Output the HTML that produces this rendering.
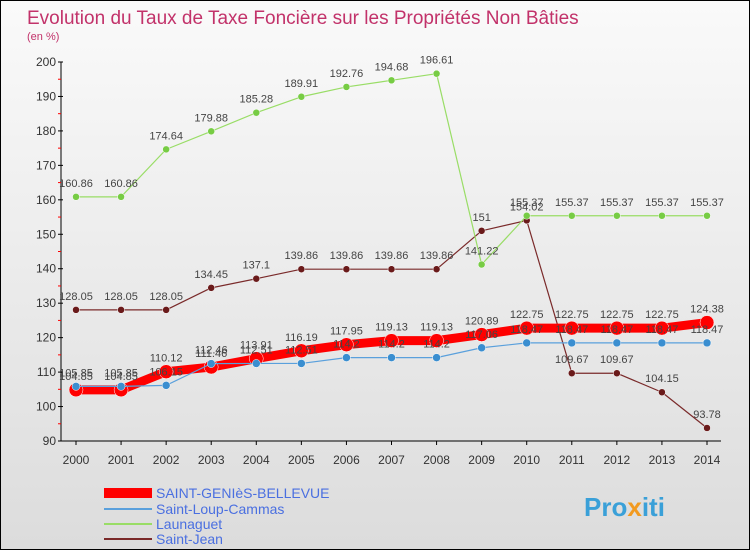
<!DOCTYPE html>
<html><head><meta charset="utf-8"><style>
body{margin:0;}
#wrap{width:748px;height:548px;border:1px solid #000;background:linear-gradient(#fafafa,#dcdcdc);position:relative;overflow:hidden;font-family:"Liberation Sans",sans-serif;}
</style></head><body>
<div id="wrap">
<svg id="chart" width="748" height="548" xmlns="http://www.w3.org/2000/svg">
<text x="26" y="23" font-size="19" fill="#c2326a">Evolution du Taux de Taxe Foncière sur les Propriétés Non Bâties</text>
<text x="26" y="39" font-size="11" fill="#c2326a">(en %)</text>
<g id="axes"></g>
<g id="series"></g>
<g id="legend" font-size="14">
<rect x="103" y="487" width="48" height="10" fill="#f00"/>
<text x="155" y="497" fill="#4a6fe0">SAINT-GENIèS-BELLEVUE</text>
<line x1="103" y1="508" x2="151" y2="508" stroke="#5aa0dc" stroke-width="2"/>
<text x="155" y="513" fill="#4a6fe0">Saint-Loup-Cammas</text>
<line x1="103" y1="523" x2="151" y2="523" stroke="#99dd66" stroke-width="2"/>
<text x="155" y="528" fill="#4a6fe0">Launaguet</text>
<line x1="103" y1="538" x2="151" y2="538" stroke="#7a2a2a" stroke-width="2"/>
<text x="155" y="543" fill="#4a6fe0">Saint-Jean</text>
</g>
<text x="583" y="515" font-size="26" font-weight="bold" fill="#3aa0d8">Pro<tspan fill="#f29a1f">x</tspan>iti</text>
</svg>
</div>
<script>
const years=[2000,2001,2002,2003,2004,2005,2006,2007,2008,2009,2010,2011,2012,2013,2014];
const yTicks=[90,100,110,120,130,140,150,160,170,180,190,200];
const saintGenies=[104.85,104.85,110.12,111.46,113.91,116.19,117.95,119.13,119.13,120.89,122.75,122.75,122.75,122.75,124.38];
const saintLoup=[105.85,105.85,106.15,112.46,112.51,112.51,114.2,114.2,114.2,117.06,118.47,118.47,118.47,118.47,118.47];
const launaguet=[160.86,160.86,174.64,179.88,185.28,189.91,192.76,194.68,196.61,141.22,155.37,155.37,155.37,155.37,155.37];
const saintJean=[128.05,128.05,128.05,134.45,137.1,139.86,139.86,139.86,139.86,151,154.02,109.67,109.67,104.15,93.78];
const NS="http://www.w3.org/2000/svg";
const x=i=>75+(706-75)*i/(years.length-1);
const y=v=>440-(v-90)*(440-61)/110;
function mk(tag,attrs,parent){const e=document.createElementNS(NS,tag);for(const k in attrs)e.setAttribute(k,attrs[k]);parent.appendChild(e);return e;}
const ax=document.getElementById('axes');
let l=mk('line',{x1:60,y1:y(200),x2:60,y2:y(90),stroke:'#000'},ax);


l=mk('line',{x1:60,y1:y(90),x2:720,y2:y(90),stroke:'#000'},ax);


yTicks.forEach(v=>{
 mk('line',{x1:57,y1:y(v),x2:62,y2:y(v),stroke:'#000'},ax);
 if(v<200)mk('line',{x1:57,y1:y(v+5),x2:60,y2:y(v+5),stroke:'#f00'},ax);
 const t=mk('text',{x:55,y:y(v)+4,'font-size':12,'text-anchor':'end',fill:'#333'},ax);
 t.textContent=v;
 
 
});
years.forEach((yr,i)=>{
 mk('line',{x1:x(i),y1:y(90),x2:x(i),y2:y(90)+4,stroke:'#000'},ax);
 const t=mk('text',{x:x(i),y:463,'font-size':12,'text-anchor':'middle',fill:'#333'},ax);
 t.textContent=yr;
 
 
});
const sg=document.getElementById('series');
function draw(name,vals,color,w,r,dotColor){
 const g=mk('g',{},sg);
 
 
 const p=mk('polyline',{points:vals.map((v,i)=>x(i)+','+y(v)).join(' '),fill:'none',stroke:color,'stroke-width':w,'stroke-linejoin':'round'},g);
 
 
 vals.forEach((v,i)=>{
  const c=mk('circle',{cx:x(i),cy:y(v),r:r,fill:dotColor,stroke:'#fff','stroke-width':0.5},g);
  
  
  const t=mk('text',{x:x(i),y:y(v)-10,'font-size':11,'text-anchor':'middle',fill:'#444'},g);
  t.textContent=v;
  
  
 });
}
draw('saint-jean',saintJean,'#7a2a2a',1.2,3.5,'#6a1a1a');
draw('launaguet',launaguet,'#99dd66',1.2,3.5,'#77cc44');
draw('saint-genies',saintGenies,'#f00',9,7,'#f00');
draw('saint-loup',saintLoup,'#5aa0dc',1.2,4,'#3a8ed0');
</script>
</body></html>
